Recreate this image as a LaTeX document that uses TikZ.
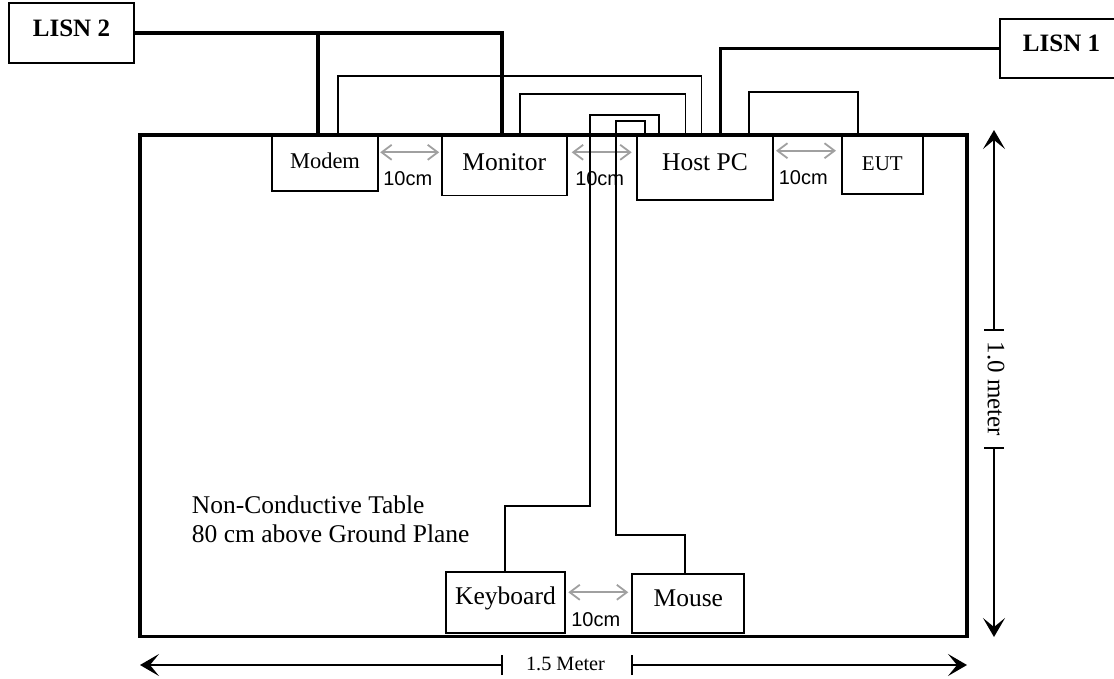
\documentclass[tikz,border=0pt]{standalone}
\usepackage{fontspec}
\setmainfont{Liberation Serif}
\newfontfamily\sansf{Liberation Sans}
\usetikzlibrary{arrows.meta}
\definecolor{gapgray}{HTML}{A0A0A0}
\begin{document}
\begin{tikzpicture}[x=1pt,y=-1pt,
  box/.style={draw, line width=1.8pt, anchor=north west, inner sep=0pt, outer sep=0pt,
    font=\fontsize{25.5}{29}\selectfont, text height=17.8pt},
  lisn/.style={box, line width=2pt, font=\bfseries\fontsize{25}{29}\selectfont, text height=17.5pt},
  power/.style={line width=3.3pt},
  wire/.style={line width=1.5pt},
  gap/.style={draw=gapgray, line width=1.8pt,
    {Straight Barb[length=10pt,width=15pt]}-{Straight Barb[length=10pt,width=15pt]}},
  dist/.style={font=\sansf\fontsize{20}{24}\selectfont, anchor=base, inner sep=0pt},
  dim/.style={line width=1.7pt},
  dimtip/.style={-{Stealth[length=19pt,width=22pt,inset=9pt]}},
]
\useasboundingbox (0,0) rectangle (1114,678);
\clip (0,0) rectangle (1114,678);

% table
\node[draw, line width=3.3pt, minimum width=827pt, minimum height=501.5pt,
  anchor=north west, inner sep=0pt, outer sep=0pt] (table) at (140,135) {};
\node[anchor=north west, align=left, inner sep=0pt, font=\fontsize{25.5}{29}\selectfont]
  (tabletext) at (191.7,495.3) {Non-Conductive Table\\80 cm above Ground Plane};

% boxes
\node[lisn, minimum width=125pt, minimum height=59.4pt, text depth=10.1pt] (lisn2) at (9,3.3) {LISN 2};
\node[lisn, minimum width=123pt, minimum height=59pt, text depth=11.1pt] (lisn1) at (1000,19) {LISN 1};
\node[box, font=\fontsize{22.5}{27}\selectfont, text height=15.75pt, text depth=4.55pt,
  minimum width=105.4pt, minimum height=55.3pt] (modem) at (272.3,135.7) {Modem};
\node[box, text depth=7.8pt, minimum width=125pt, minimum height=60pt] (monitor) at (441.7,135.5) {Monitor};
\node[box, text depth=13.8pt, minimum width=136pt, minimum height=64pt] (hostpc) at (637,136) {Host PC};
\node[box, font=\fontsize{21}{25}\selectfont, text height=14.7pt, text depth=4.7pt,
  minimum width=80.7pt, minimum height=58pt] (eut) at (842,136) {EUT};
\node[box, text depth=14.8pt, minimum width=119pt, minimum height=61pt] (keyboard) at (446,572) {Keyboard};
\node[box, text depth=11.4pt, minimum width=112pt, minimum height=59pt] (mouse) at (632.3,574) {Mouse};

% gap arrows and labels
\coordinate (g1) at (0,152.3);
\coordinate (g2) at (0,150.7);
\coordinate (g3) at (0,592.3);
\draw[gap, shorten <=2.5pt, shorten >=2.5pt] (modem.east |- g1) -- (monitor.west |- g1);
\draw[gap, shorten <=5pt, shorten >=5.3pt] (monitor.east |- g1) -- (hostpc.west |- g1);
\draw[gap, shorten <=3pt, shorten >=6pt] (hostpc.east |- g2) -- (eut.west |- g2);
\draw[gap, shorten <=3.3pt, shorten >=4pt] (keyboard.east |- g3) -- (mouse.west |- g3);
\node[dist] (d1) at (407.8,185.5) {10cm};
\node[dist] (d2) at (599.7,185.5) {10cm};
\node[dist] (d3) at (803.3,184) {10cm};
\node[dist] (d4) at (595.8,626) {10cm};

% power lines
\coordinate (c318) at (318,0);
\coordinate (c502) at (502,0);
\coordinate (c721) at (720.7,0);
\draw[power] (lisn2.east) -| (c502 |- monitor.north);
\draw[power] (c318 |- lisn2.east) -- (c318 |- modem.north);
\draw[power] (lisn1.west) -| (c721 |- hostpc.north);

% signal wires
\coordinate (m1) at (338,76);   \coordinate (m2) at (701.7,76);
\draw[wire] (m1 |- modem.north) -- (m1) -- (m2) -- (m2 |- hostpc.north);
\coordinate (n1) at (520,94);   \coordinate (n2) at (685.7,94);
\draw[wire] (n1 |- monitor.north) -- (n1) -- (n2) -- (n2 |- hostpc.north);
\coordinate (e1) at (749,92);   \coordinate (e2) at (858,92);
\draw[wire] (e1 |- hostpc.north) -- (e1) -- (e2) -- (e2 |- eut.north);
\coordinate (k1) at (505,506);  \coordinate (k2) at (590,506);
\coordinate (k3) at (590,115);  \coordinate (k4) at (659,115);
\draw[wire] (k1 |- keyboard.north) -- (k1) -- (k2) -- (k3) -- (k4) -- (k4 |- hostpc.north);
\coordinate (u1) at (685,535);  \coordinate (u2) at (616,535);
\coordinate (u3) at (616,121);  \coordinate (u4) at (645,121);
\draw[wire] (u1 |- mouse.north) -- (u1) -- (u2) -- (u3) -- (u4) -- (u4 |- hostpc.north);

% horizontal dimension
\coordinate (dimy) at (0,665);
\coordinate (tL) at (501.7,665);
\coordinate (tR) at (632.3,665);
\draw[dim, dimtip] (tL) -- (table.south west |- dimy);
\draw[dim, dimtip] (tR) -- (table.south east |- dimy);
\draw[dim] ([yshift=-10pt]tL) -- ([yshift=10pt]tL);
\draw[dim] ([yshift=-10pt]tR) -- ([yshift=10pt]tR);
\node[font=\fontsize{20.3}{24}\selectfont, anchor=base, inner sep=0pt] (len) at (565.5,670.7) {1.5 Meter};

% vertical dimension
\coordinate (vT) at (994,330);
\coordinate (vB) at (994,448);
\coordinate (vtop) at (994,130);
\coordinate (vbot) at (994,637);
\draw[dim, dimtip] (vT) -- (vtop);
\draw[dim, dimtip] (vB) -- (vbot);
\draw[dim] ([xshift=-10pt]vT) -- ([xshift=10pt]vT);
\draw[dim] ([xshift=-10pt]vB) -- ([xshift=10pt]vB);
\node[rotate=-90, font=\fontsize{25}{29}\selectfont, inner sep=0pt] (height) at (996,389) {1.0 meter};
\end{tikzpicture}
\end{document}
